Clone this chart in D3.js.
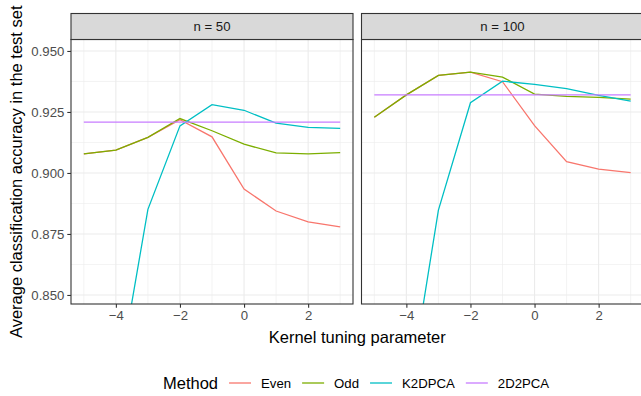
<!DOCTYPE html>
<html>
<head>
<meta charset="utf-8">
<script src="https://cdn.jsdelivr.net/npm/d3@7"></script>
<style>
  body { margin: 0; background: #fff; }
  svg { display: block; font-family: "Liberation Sans", Arial, sans-serif; }
</style>
</head>
<body>
<svg id="chart" width="641" height="396"></svg>
<script>
// data
const kernelParams = [-5, -4, -3, -2, -1, 0, 1, 2, 3];
const methods = ["Even", "Odd", "K2DPCA", "2D2PCA"];
const panelLabels = ["n = 50", "n = 100"];
const xTicks = [-4, -2, 0, 2];
const yTicks = [0.850, 0.875, 0.900, 0.925, 0.950];

const even50 = [0.9078, 0.9094, 0.9146, 0.9218, 0.9148, 0.8934, 0.8844, 0.8800, 0.8779];
const odd50 = [0.9078, 0.9094, 0.9146, 0.9223, 0.9173, 0.9118, 0.9082, 0.9078, 0.9083];
const k2dpca50 = [0.760, 0.809, 0.8851, 0.9193, 0.9280, 0.9257, 0.9204, 0.9187, 0.9183];
const pca2d50 = [0.9208, 0.9208, 0.9208, 0.9208, 0.9208, 0.9208, 0.9208, 0.9208, 0.9208];

const even100 = [0.9228, 0.9320, 0.9400, 0.9413, 0.9374, 0.9194, 0.9046, 0.9016, 0.9001];
const odd100 = [0.9228, 0.9320, 0.9400, 0.9413, 0.9393, 0.9323, 0.9314, 0.9310, 0.9303];
const k2dpca100 = [0.750, 0.803, 0.8848, 0.9288, 0.9376, 0.9363, 0.9346, 0.9318, 0.9294];
const pca2d100 = [0.9320, 0.9320, 0.9320, 0.9320, 0.9320, 0.9320, 0.9320, 0.9320, 0.9320];

const panelSeries = [
  [even50, odd50, k2dpca50, pca2d50],
  [even100, odd100, k2dpca100, pca2d100],
];

const svg = d3.select("#chart");

const PANEL = { left: 71, top: 39.5, width: 282, height: 264.5, gap: 8.5 };
const STRIP_H = 26;
const colors = d3.scaleOrdinal(methods, ["#F8766D", "#7CAE00", "#00BFC4", "#C77CFF"]);

const x = d3.scaleLinear().domain([-5.4, 3.4]).range([0, PANEL.width]);
const y = d3.scaleLinear().domain([0.8463, 0.9547]).range([PANEL.height, 0]);

const line = d3.line()
  .x((d) => x(d[0]))
  .y((d) => y(d[1]));

svg.append("defs").append("clipPath")
  .attr("id", "panel-clip")
  .append("rect")
  .attr("width", PANEL.width)
  .attr("height", PANEL.height);

const xMinor = d3.range(-5, 4, 2);
const yMinor = d3.range(0.8625, 0.95, 0.025);

panelLabels.forEach((label, p) => {
  const g = svg.append("g")
    .attr("transform", `translate(${PANEL.left + p * (PANEL.width + PANEL.gap)},${PANEL.top})`);

  // grid
  const grid = g.append("g");
  grid.selectAll(".xminor").data(xMinor).join("line")
    .attr("x1", (d) => x(d)).attr("x2", (d) => x(d))
    .attr("y1", 0).attr("y2", PANEL.height)
    .attr("stroke", "#EBEBEB").attr("stroke-width", 0.6);
  grid.selectAll(".yminor").data(yMinor).join("line")
    .attr("x1", 0).attr("x2", PANEL.width)
    .attr("y1", (d) => y(d)).attr("y2", (d) => y(d))
    .attr("stroke", "#EBEBEB").attr("stroke-width", 0.6);
  grid.selectAll(".xmajor").data(xTicks).join("line")
    .attr("x1", (d) => x(d)).attr("x2", (d) => x(d))
    .attr("y1", 0).attr("y2", PANEL.height)
    .attr("stroke", "#EBEBEB").attr("stroke-width", 1.1);
  grid.selectAll(".ymajor").data(yTicks).join("line")
    .attr("x1", 0).attr("x2", PANEL.width)
    .attr("y1", (d) => y(d)).attr("y2", (d) => y(d))
    .attr("stroke", "#EBEBEB").attr("stroke-width", 1.1);

  // lines
  g.append("g")
    .attr("clip-path", "url(#panel-clip)")
    .selectAll("path")
    .data(panelSeries[p].map((vals, i) => ({ method: methods[i], pts: kernelParams.map((k, j) => [k, vals[j]]) })))
    .join("path")
    .attr("d", (d) => line(d.pts))
    .attr("fill", "none")
    .attr("stroke", (d) => colors(d.method))
    .attr("stroke-width", 1.3);

  // panel border
  g.append("rect")
    .attr("width", PANEL.width).attr("height", PANEL.height)
    .attr("fill", "none").attr("stroke", "#333333").attr("stroke-width", 1.1);

  // strip
  g.append("rect")
    .attr("y", -STRIP_H).attr("width", PANEL.width).attr("height", STRIP_H)
    .attr("fill", "#D9D9D9").attr("stroke", "#333333").attr("stroke-width", 1.1);
  g.append("text")
    .attr("x", PANEL.width / 2).attr("y", -STRIP_H / 2)
    .attr("dy", "0.35em").attr("text-anchor", "middle")
    .attr("font-size", 13.2).attr("fill", "#1A1A1A")
    .text(label);

  // x axis
  const xAxis = g.append("g")
    .attr("transform", `translate(0,${PANEL.height})`)
    .call(d3.axisBottom(x).tickValues(xTicks).tickSize(3.7).tickPadding(3)
      .tickFormat((d) => d < 0 ? "\u2212" + Math.abs(d) : d));
  xAxis.select(".domain").remove();
  xAxis.selectAll(".tick line").attr("stroke", "#333333").attr("stroke-width", 1.1);
  xAxis.selectAll(".tick text").attr("fill", "#4D4D4D").attr("font-size", 13.2)
    .attr("font-family", "Liberation Sans, Arial, sans-serif");

  if (p === 0) {
    const yAxis = g.append("g")
      .call(d3.axisLeft(y).tickValues(yTicks).tickSize(3.7).tickPadding(3)
        .tickFormat(d3.format(".3f")));
    yAxis.select(".domain").remove();
    yAxis.selectAll(".tick line").attr("stroke", "#333333").attr("stroke-width", 1.1);
    yAxis.selectAll(".tick text").attr("fill", "#4D4D4D").attr("font-size", 13.2)
      .attr("font-family", "Liberation Sans, Arial, sans-serif");
  }
});

// axis titles
svg.append("text")
  .attr("x", PANEL.left + PANEL.width + PANEL.gap / 2).attr("y", 343)
  .attr("text-anchor", "middle").attr("font-size", 16.5).attr("fill", "#000")
  .text("Kernel tuning parameter");

svg.append("text")
  .attr("transform", `translate(22,${PANEL.top + PANEL.height / 2}) rotate(-90)`)
  .attr("text-anchor", "middle").attr("font-size", 16.5).attr("fill", "#000")
  .text("Average classification accuracy in the test set");

// legend
const LEGEND = { x: 163, y: 383, keyW: 22 };
const legend = svg.append("g").attr("transform", `translate(${LEGEND.x},${LEGEND.y})`);
const title = legend.append("text")
  .attr("dy", "0.35em").attr("font-size", 16.5).attr("fill", "#000")
  .text("Method");
let cursor = title.node().getComputedTextLength() + 11;
methods.forEach((m) => {
  legend.append("line")
    .attr("x1", cursor).attr("x2", cursor + LEGEND.keyW)
    .attr("stroke", colors(m)).attr("stroke-width", 1.3);
  const t = legend.append("text")
    .attr("x", cursor + LEGEND.keyW + 10).attr("dy", "0.35em")
    .attr("font-size", 13.2).attr("fill", "#000")
    .text(m);
  cursor += LEGEND.keyW + 10 + t.node().getComputedTextLength() + 11;
});
</script>
</body>
</html>
